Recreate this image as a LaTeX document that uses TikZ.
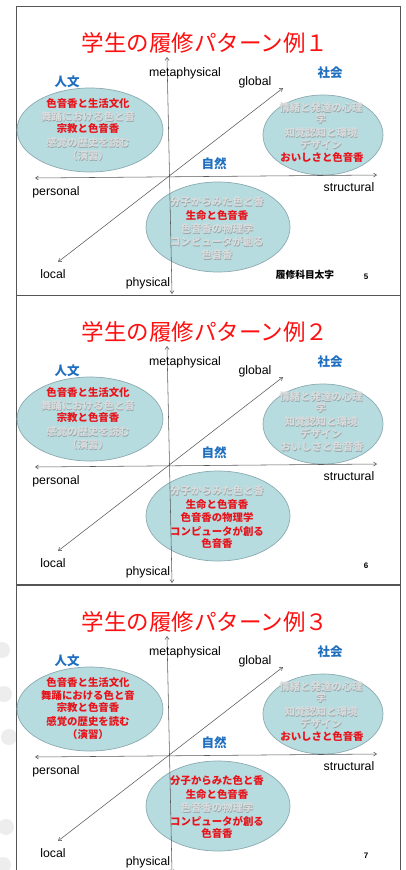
\documentclass[tikz,border=0pt]{standalone}
\usepackage{fontspec}
\setmainfont{Liberation Sans}
\newfontfamily\jp{Noto Sans CJK JP}
\usetikzlibrary{arrows.meta,shapes.geometric}
\definecolor{ttlred}{HTML}{FF1010}
\definecolor{redtxt}{HTML}{E8141C}
\definecolor{bluetxt}{HTML}{1F6FC0}
\definecolor{ellfill}{HTML}{B6DCE0}
\definecolor{elldraw}{HTML}{8CAAB0}
\definecolor{ghostlight}{HTML}{D8DCDD}
\definecolor{ghostdark}{HTML}{9AA3A6}
\definecolor{axiscol}{HTML}{5A5A5A}
\definecolor{framecol}{HTML}{555555}
\definecolor{bgcirc}{HTML}{EDEDED}

\newcommand\rtx[1]{\textcolor{redtxt}{#1}}
\newcommand\gtx[1]{\makebox[0pt][l]{\kern0.45pt\raisebox{-0.45pt}{\textcolor{ghostdark}{#1}}}\textcolor{ghostlight}{#1}}

\tikzset{
  frame/.style={draw=framecol, line width=0.9pt},
  ell/.style={ellipse, draw=elldraw, fill=ellfill, line width=0.7pt, inner sep=0pt},
  ax/.style={draw=axiscol, line width=0.55pt, {Straight Barb[length=3pt,width=4pt]}-{Straight Barb[length=3pt,width=4pt]}},
  ttl/.style={text=ttlred, font=\jp\fontsize{22.5}{26}\selectfont, inner sep=0pt},
  lbl/.style={text=black, font=\fontsize{12.3}{14}\selectfont, inner sep=0pt},
  area/.style={text=bluetxt, font=\jp\bfseries\fontsize{12.5}{14}\selectfont, inner sep=0pt},
  line/.style={font=\jp\bfseries\fontsize{10.4}{12}\selectfont, inner sep=0pt},
  foot/.style={text=black, font=\jp\bfseries\fontsize{9.7}{11}\selectfont, inner sep=0pt},
  pnum/.style={text=black, font=\bfseries\fontsize{8}{9}\selectfont, inner sep=0pt},
}

\newcommand\drawpanel[3]{%
\begin{scope}[yshift=-#2pt]
  \draw[frame] (16,6) rectangle (400,295);
  \node[ell, minimum width=146pt, minimum height=84pt] (hum#1) at (90,130) {};
  \node[ell, minimum width=120pt, minimum height=80pt] (soc#1) at (323,135) {};
  \node[ell, minimum width=144pt, minimum height=90pt] (nat#1) at (218,227) {};
  \coordinate (top#1) at (167,57);
  \coordinate (bot#1) at (172,294);
  \coordinate (left#1) at (35,178);
  \coordinate (right#1) at (377,175);
  \coordinate (loc#1) at (58,262);
  \coordinate (glo#1) at (283,88);
  \draw[ax] (bot#1) -- (top#1);
  \draw[ax] (left#1) -- (right#1);
  \draw[ax] (loc#1) -- (glo#1);
  \node[ttl] (title#1) at (205,43) {学生の履修パターン例#3};
  \node[lbl] (meta#1) at (185,73) {metaphysical};
  \node[lbl] (global#1) at (255,82) {global};
  \node[lbl] (pers#1) at (56,192) {personal};
  \node[lbl] (struct#1) at (349,187) {structural};
  \node[lbl] (local#1) at (53,274) {local};
  \node[lbl] (phys#1) at (148,283) {physical};
  \node[area] (jinbun#1) at (67,82) {人文};
  \node[area] (shakai#1) at (330,73) {社会};
  \node[area] (shizen#1) at (214,164) {自然};
  \node[line] (ha#1) at (88,104) {\hA{色音香と生活文化}};
  \node[line] (hb#1) at (88,117) {\hB{舞踊における色と音}};
  \node[line] (hc#1) at (88,129) {\hC{宗教と色音香}};
  \node[line] (hd#1) at (88,143) {\hD{感覚の歴史を読む}};
  \node[line] (he#1) at (88,156) {\hE{（演習）}};
  \node[line] (sa#1) at (321,108) {\sA{情緒と発達の心理}};
  \node[line] (sb#1) at (321,119) {\sA{学}};
  \node[line] (sc#1) at (321,133) {\sB{知覚認知と環境}};
  \node[line] (sd#1) at (321,145) {\sB{デザイン}};
  \node[line] (se#1) at (322,158) {\sC{おいしさと色音香}};
  \node[line] (na#1) at (217,202) {\nA{分子からみた色と香}};
  \node[line] (nb#1) at (217,216) {\nB{生命と色音香}};
  \node[line] (nc#1) at (217,229) {\nC{色音香の物理学}};
  \node[line] (nd#1) at (217,242) {\nD{コンピュータが創る}};
  \node[line] (ne#1) at (217,255) {\nE{色音香}};
  \node[pnum] (num#1) at (366,277) {\the\numexpr#1+4\relax};
\end{scope}}

\begin{document}
\begin{tikzpicture}[x=1pt,y=-1pt]
\useasboundingbox (0,0) rectangle (406,870);
\clip (0,0) rectangle (406,870);
\fill[white] (0,0) rectangle (406,870);
% faint background circles in the left margin
\foreach \cy/\cx in {650/2,694/4,737/9,827/6,865/3}{
  \fill[bgcirc] (\cx,\cy) circle (8);
}
% panel 1
\let\hA\rtx \let\hB\gtx \let\hC\rtx \let\hD\gtx \let\hE\gtx
\let\sA\gtx \let\sB\gtx \let\sC\rtx
\let\nA\gtx \let\nB\rtx \let\nC\gtx \let\nD\gtx \let\nE\gtx
\drawpanel{1}{0}{１}
\node[foot] (footnote) at (305,275) {履修科目太字};
% panel 2
\let\hA\rtx \let\hB\gtx \let\hC\rtx \let\hD\gtx \let\hE\gtx
\let\sA\gtx \let\sB\gtx \let\sC\gtx
\let\nA\gtx \let\nB\rtx \let\nC\rtx \let\nD\rtx \let\nE\rtx
\drawpanel{2}{289}{２}
% panel 3
\let\hA\rtx \let\hB\rtx \let\hC\rtx \let\hD\rtx \let\hE\rtx
\let\sA\gtx \let\sB\gtx \let\sC\rtx
\let\nA\rtx \let\nB\rtx \let\nC\gtx \let\nD\rtx \let\nE\rtx
\drawpanel{3}{579}{３}
\end{tikzpicture}
\end{document}
